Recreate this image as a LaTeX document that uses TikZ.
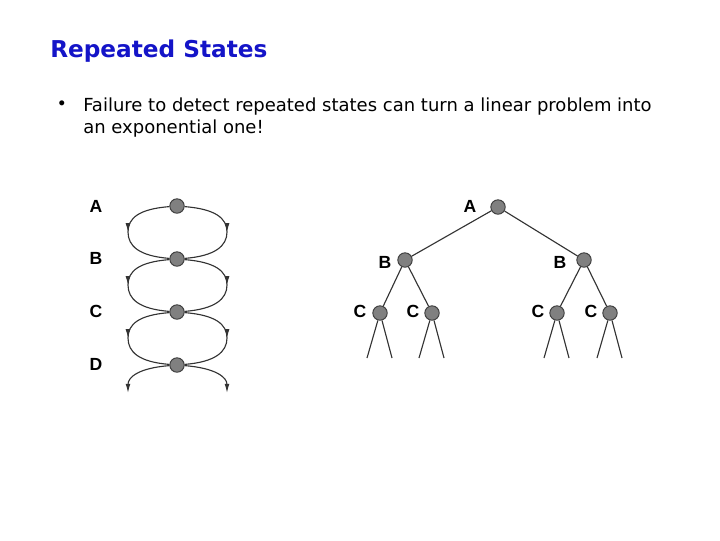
\documentclass[tikz,border=0pt]{standalone}
\usepackage{fontspec}
\setmainfont{DejaVu Sans}
\newfontfamily\labelfont{Liberation Sans}
\usepackage{tikz}
\usetikzlibrary{positioning,arrows.meta,decorations.markings}

\definecolor{titleblue}{RGB}{20,20,200}
\definecolor{stategray}{RGB}{128,128,128}

\begin{document}
\begin{tikzpicture}[
    x=0.025cm, y=-0.025cm,
    state/.style={
        circle,
        draw=black!75,
        fill=stategray,
        line width=0.7pt,
        inner sep=0pt,
        minimum size=0.36cm
    },
    lbl/.style={
        font=\labelfont\bfseries\fontsize{12.5}{13}\selectfont,
        inner sep=0pt
    },
    edge/.style={draw=black!80, line width=0.8pt},
    midarrow/.style={
        edge,
        postaction={decorate},
        decoration={markings,
            mark=at position 0.5 with {\arrow{Latex[length=6.5pt,width=3.4pt]}}}
    },
    endarrow/.style={edge, -{Latex[length=6.5pt,width=3.4pt]}}
]
\useasboundingbox (0,0) rectangle (720,540);

% title and text
\node[anchor=base west, inner sep=0pt, text=titleblue,
      font=\bfseries\fontsize{16.5}{19}\selectfont] (title) at (50,57) {Repeated States};
\node[inner sep=0pt, font=\fontsize{9}{11}\selectfont] (bullet) at (62,104) {$\bullet$};
\node[anchor=base west, inner sep=0pt, font=\fontsize{12.8}{15}\selectfont] (line1) at (83,111)
{Failure to detect repeated states can turn a linear problem into};
\node[anchor=base west, inner sep=0pt, font=\fontsize{12.8}{15}\selectfont] (line2) at (83,133)
{an exponential one!};

% linear chain
\node[state] (A) at (177,206) {};
\node[state] (B) at (177,259) {};
\node[state] (C) at (177,312) {};
\node[state] (D) at (177,365) {};

\node[lbl] (lA) at (96,206) {A};
\node[lbl] (lB) at (96,258) {B};
\node[lbl] (lC) at (96,311) {C};
\node[lbl] (lD) at (96,364) {D};

\coordinate (Dl) at (128,393);
\coordinate (Dr) at (227,393);

\foreach \u/\v/\m in {A/B/232, B/C/285, C/D/338} {
    \draw[midarrow] (\u) .. controls +(-38,3) and +(0,-14) .. (128,\m)
                         .. controls +(0,14) and +(-38,-3) .. (\v);
    \draw[midarrow] (\u) .. controls +(38,3) and +(0,-14) .. (227,\m)
                         .. controls +(0,14) and +(38,-3) .. (\v);
}
\draw[endarrow] (D) .. controls +(-38,3) and +(0,-16) .. (Dl);
\draw[endarrow] (D) .. controls +(38,3) and +(0,-16) .. (Dr);

% search tree
\node[state] (tA) at (498,207) {};
\node[state] (tB1) at (405,260) {};
\node[state] (tB2) at (584,260) {};
\node[state] (tC1) at (380,313) {};
\node[state] (tC2) at (432,313) {};
\node[state] (tC3) at (557,313) {};
\node[state] (tC4) at (610,313) {};

\node[lbl] (ltA) at (470,206) {A};
\node[lbl] (ltB1) at (385,262) {B};
\node[lbl] (ltB2) at (560,262) {B};
\node[lbl] (ltC1) at (360,311) {C};
\node[lbl] (ltC2) at (413,311) {C};
\node[lbl] (ltC3) at (538,311) {C};
\node[lbl] (ltC4) at (591,311) {C};

\draw[edge] (tA) -- (tB1);
\draw[edge] (tA) -- (tB2);
\draw[edge] (tB1) -- (tC1);
\draw[edge] (tB1) -- (tC2);
\draw[edge] (tB2) -- (tC3);
\draw[edge] (tB2) -- (tC4);

\foreach \c in {tC1,tC2,tC3,tC4} {
    \coordinate (\c l) at ([xshift=-13*0.025cm, yshift=-45*0.025cm]\c);
    \coordinate (\c r) at ([xshift=12*0.025cm, yshift=-45*0.025cm]\c);
    \draw[edge] (\c) -- (\c l);
    \draw[edge] (\c) -- (\c r);
}

\end{tikzpicture}
\end{document}
